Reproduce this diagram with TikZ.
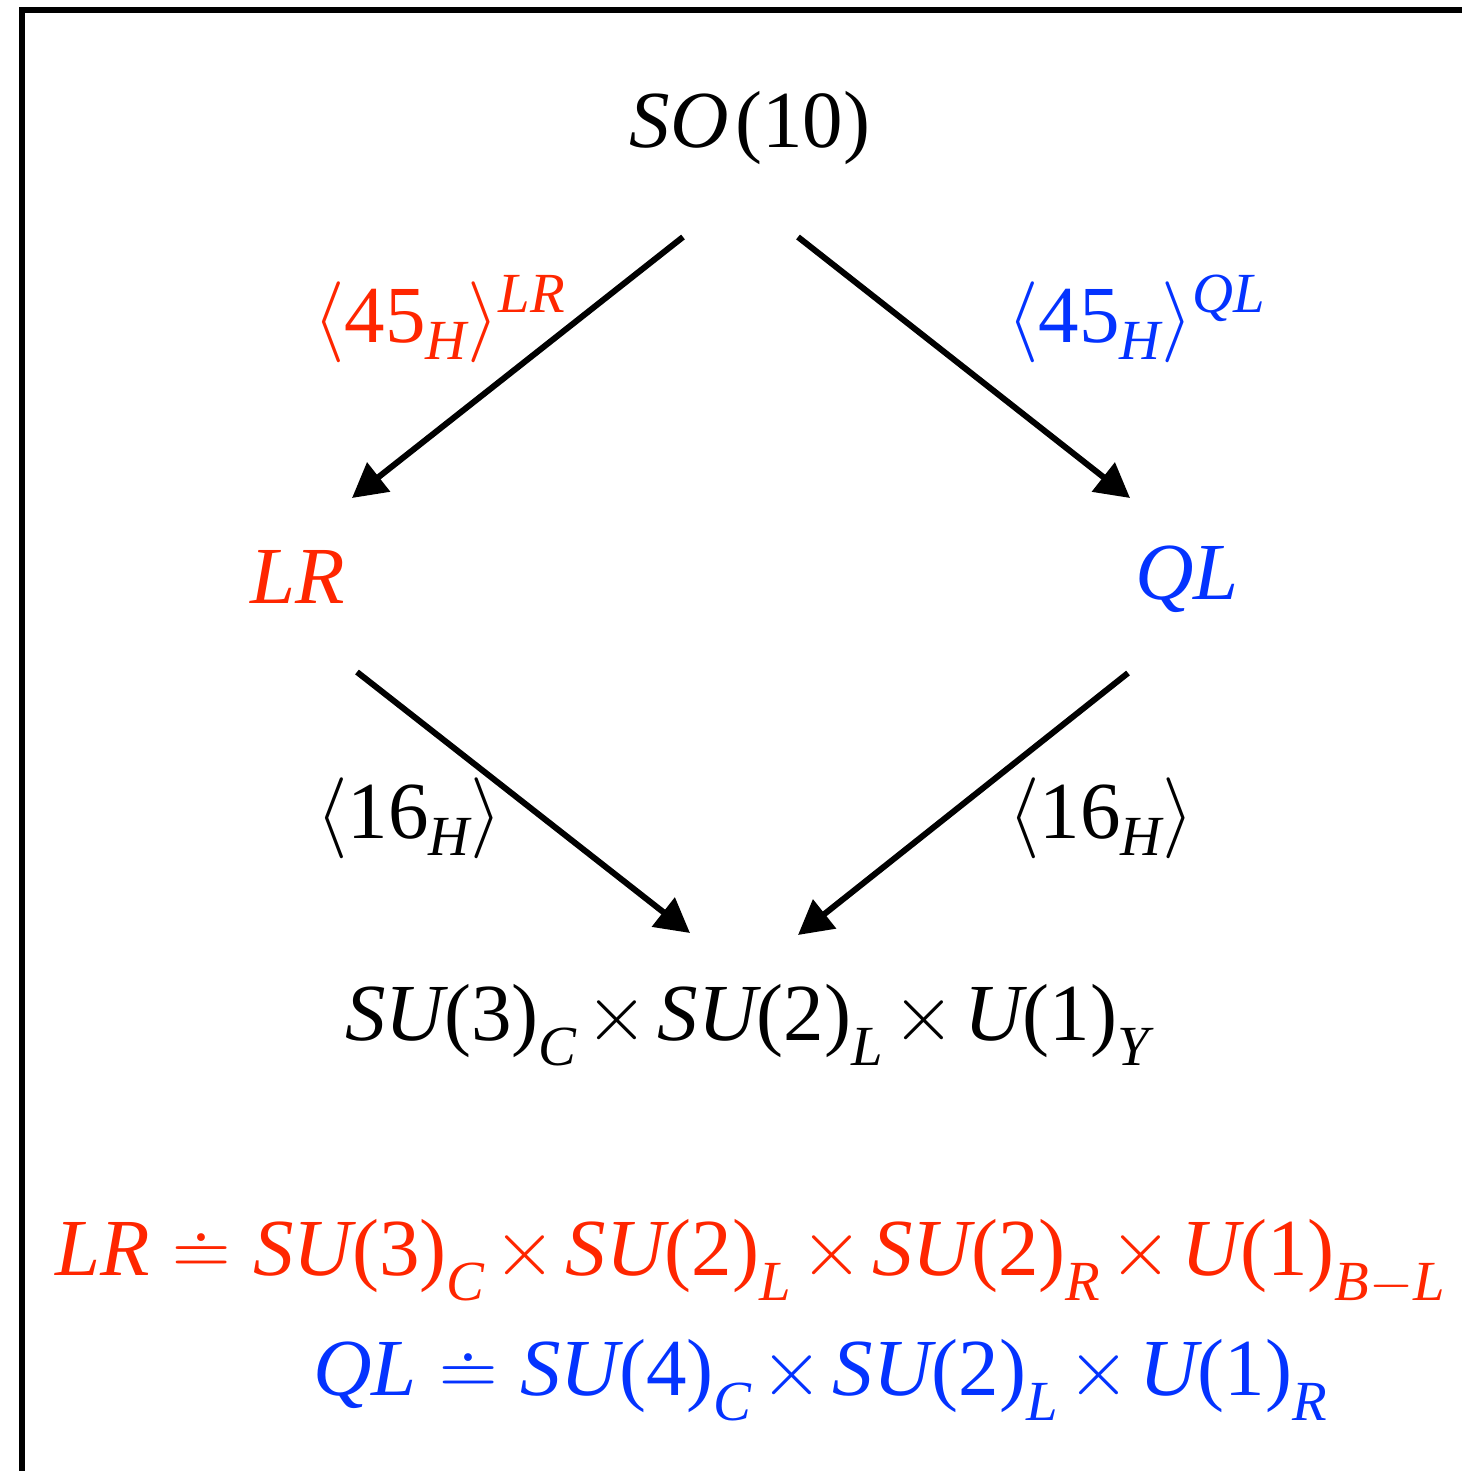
\RequirePackage{fix-cm}
\documentclass[tikz,border=0pt]{standalone}
\usepackage{amsmath}
\usepackage{fontspec}
\setmainfont{Liberation Serif}
\usetikzlibrary{arrows.meta}
\definecolor{kred}{HTML}{FF2600}
\definecolor{kblue}{HTML}{0433FF}
\newcommand\mi[1]{\text{\itshape #1}}
\newcommand\tx[1]{\text{#1}}
\newcommand\dn[1]{_{\lower5pt\hbox{$\scriptstyle #1$}}}
\newcommand\X{\mskip2mu\mathord{\times}\mskip2mu}
\tikzset{
  lbl/.style={inner sep=0pt, anchor=base west, font=\fontsize{81}{96}\selectfont},
  arr/.style={line width=6pt, -{Triangle[length=34pt,width=36pt]}},
  frame/.style={line width=6pt}
}
\begin{document}
\begin{tikzpicture}[x=1pt,y=-1pt]
\useasboundingbox (0,0) rectangle (1461,1471);
\draw[frame] (22,1500) -- (22,10) -- (1500,10);
\node[lbl, anchor=base] (so) at (750,148) {$\mi{SO}\mskip1.5mu\tx{(10)}$};
\node[lbl, text=kred] (lr) at (250,603) {$\mi{LR}$};
\node[lbl, text=kblue] (ql) at (1135,599) {$\mi{QL}$};
\node[lbl] (sm) at (345,1040) {$\mi{SU}\tx{(3)}\dn{\mi{C}}\X\mi{SU}\tx{(2)}\dn{\mi{L}}\X\mi{U}\tx{(1)}\dn{\mi{Y}}$};
\node[lbl, text=kred] (l45a) at (313,342) {$\langle\tx{45}\dn{\mi{H}}\rangle^{\mi{LR}}$};
\node[lbl, text=kblue] (l45b) at (1007,342) {$\langle\tx{45}\dn{\mi{H}}\rangle^{\mi{QL}}$};
\node[lbl] (l16a) at (316,838) {$\langle\tx{16}\dn{\mi{H}}\rangle$};
\node[lbl] (l16b) at (1008,838) {$\langle\tx{16}\dn{\mi{H}}\rangle$};
\node[lbl, text=kred] (deflr) at (55,1275) {$\mi{LR}\doteq\mi{SU}\tx{(3)}\dn{\mi{C}}\X\mi{SU}\tx{(2)}\dn{\mi{L}}\X\mi{SU}\tx{(2)}\dn{\mi{R}}\X\mi{U}\tx{(1)}\dn{\mi{B}-\mi{L}}$};
\node[lbl, text=kblue] (defql) at (313,1395) {$\mi{QL}\doteq\mi{SU}\tx{(4)}\dn{\mi{C}}\X\mi{SU}\tx{(2)}\dn{\mi{L}}\X\mi{U}\tx{(1)}\dn{\mi{R}}$};
\coordinate (so-l) at (683,237);
\coordinate (so-r) at (798,237);
\coordinate (lr-in) at (352,498);
\coordinate (ql-in) at (1130,498);
\coordinate (lr-out) at (357,672);
\coordinate (ql-out) at (1128,673);
\coordinate (sm-l) at (690,933);
\coordinate (sm-r) at (798,935);
\draw[arr] (so-l) -- (lr-in);
\draw[arr] (so-r) -- (ql-in);
\draw[arr] (lr-out) -- (sm-l);
\draw[arr] (ql-out) -- (sm-r);
\end{tikzpicture}
\end{document}
